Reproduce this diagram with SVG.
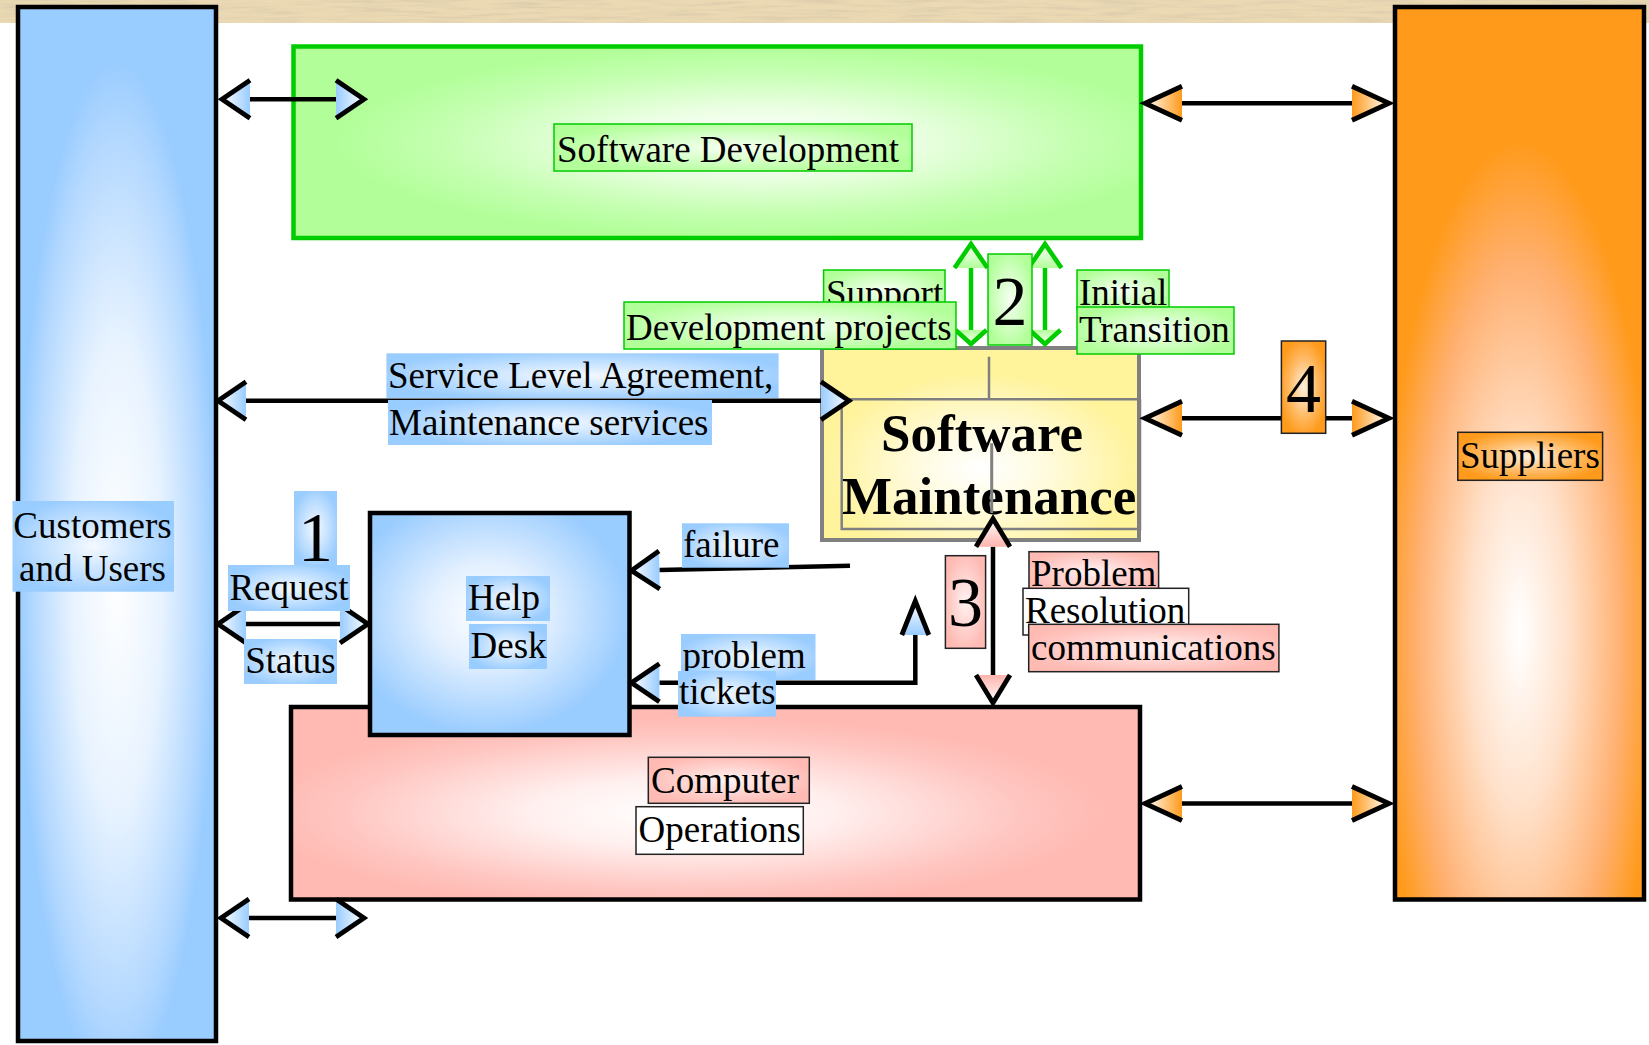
<svg xmlns="http://www.w3.org/2000/svg" width="1649" height="1045" viewBox="0 0 1649 1045">
<style>
.t{font-family:"Liberation Serif","Times New Roman",serif;font-size:37px;fill:#000}
.d{font-size:70px}
.b{font-weight:bold;font-size:53px}
.lb{fill:url(#gLB)}
.lg{fill:url(#gLG);stroke:#00cc00;stroke-width:1.5}
.lp{fill:url(#gLP);stroke:#222;stroke-width:1.5}
.lw{fill:#fff;stroke:#222;stroke-width:1.5}
.lo{fill:url(#gLO);stroke:#222;stroke-width:1.5}
.c{fill:none;stroke:#000;stroke-width:4.5}
.cg{fill:none;stroke:#00cc00;stroke-width:4.5}
.box{stroke:#000;stroke-width:4.5}
</style>
<defs>
<filter id="fPaper" x="0" y="0" width="1" height="1">
<feTurbulence type="fractalNoise" baseFrequency="0.02 0.3" numOctaves="4" seed="7" result="n"/>
<feColorMatrix in="n" type="matrix" values="0 0 0 0 0.74  0 0 0 0 0.62  0 0 0 0 0.42  3 0 0 0 -1.3" result="c"/>
<feComposite in="c" in2="SourceGraphic" operator="in" result="m"/>
<feMerge><feMergeNode in="SourceGraphic"/><feMergeNode in="m"/></feMerge>
</filter>
<radialGradient id="gBlueBox" cx="0.5" cy="0.55" r="0.5">
<stop offset="0" stop-color="#ffffff"/><stop offset="0.45" stop-color="#e8f3ff"/><stop offset="0.85" stop-color="#b3d8ff"/><stop offset="1" stop-color="#99ccff"/>
</radialGradient>
<radialGradient id="gHDBox" cx="0.45" cy="0.45" r="0.55">
<stop offset="0" stop-color="#ffffff"/><stop offset="0.4" stop-color="#e3f0ff"/><stop offset="1" stop-color="#99ccff"/>
</radialGradient>
<radialGradient id="gOrBox" cx="0.5" cy="0.7" r="0.55">
<stop offset="0" stop-color="#ffffff"/><stop offset="0.35" stop-color="#ffe2cc"/><stop offset="0.75" stop-color="#ffb070"/><stop offset="1" stop-color="#ff9a1a"/>
</radialGradient>
<radialGradient id="gGrBox" cx="0.55" cy="0.5" r="0.5">
<stop offset="0" stop-color="#ffffff"/><stop offset="0.35" stop-color="#ecffe4"/><stop offset="0.75" stop-color="#c4ffb0"/><stop offset="1" stop-color="#b2ff99"/>
</radialGradient>
<radialGradient id="gPkBox" cx="0.46" cy="0.55" r="0.5">
<stop offset="0" stop-color="#ffffff"/><stop offset="0.35" stop-color="#fff0ef"/><stop offset="0.8" stop-color="#ffc6c1"/><stop offset="1" stop-color="#ffbab3"/>
</radialGradient>
<radialGradient id="gYBox" cx="0.5" cy="0.63" r="0.5">
<stop offset="0" stop-color="#ffffff"/><stop offset="0.4" stop-color="#fffbe0"/><stop offset="1" stop-color="#fff39b"/>
</radialGradient>
<radialGradient id="gLB" cx="0.5" cy="0.5" r="0.55"><stop offset="0" stop-color="#f4f9ff"/><stop offset="0.6" stop-color="#bfdfff"/><stop offset="1" stop-color="#99ccff"/></radialGradient>
<radialGradient id="gLG" cx="0.5" cy="0.5" r="0.55"><stop offset="0" stop-color="#f6fff2"/><stop offset="0.6" stop-color="#cfffbf"/><stop offset="1" stop-color="#b2ff99"/></radialGradient>
<radialGradient id="gLP" cx="0.5" cy="0.5" r="0.55"><stop offset="0" stop-color="#fff4f3"/><stop offset="0.6" stop-color="#ffcfcb"/><stop offset="1" stop-color="#ffbab3"/></radialGradient>
<radialGradient id="gLO" cx="0.5" cy="0.5" r="0.55"><stop offset="0" stop-color="#fff0e0"/><stop offset="0.6" stop-color="#ffb860"/><stop offset="1" stop-color="#ff9a1a"/></radialGradient>
<linearGradient id="gHB" x1="0" y1="0" x2="1" y2="0"><stop offset="0" stop-color="#99ccff"/><stop offset="1" stop-color="#ffffff"/></linearGradient>
<linearGradient id="gHO" x1="0" y1="0" x2="1" y2="0"><stop offset="0" stop-color="#ff9a1a"/><stop offset="1" stop-color="#ffffff"/></linearGradient>
<linearGradient id="gHP" x1="0" y1="0" x2="1" y2="0"><stop offset="0" stop-color="#ffb3ad"/><stop offset="1" stop-color="#ffffff"/></linearGradient>
<linearGradient id="gHG" x1="0" y1="0" x2="1" y2="0"><stop offset="0" stop-color="#b2ff99"/><stop offset="1" stop-color="#ffffff"/></linearGradient>
<marker id="mB" markerUnits="userSpaceOnUse" viewBox="-6 -26 50 52" markerWidth="50" markerHeight="52" refX="0" refY="0" orient="auto-start-reverse" overflow="visible">
<path d="M0,-19 L28,0 L0,19 Z" fill="url(#gHB)"/><path d="M0,-19 L28,0 L0,19" fill="none" stroke="#000" stroke-width="4.8"/>
</marker>
<marker id="mB2" markerUnits="userSpaceOnUse" viewBox="-6 -26 50 52" markerWidth="50" markerHeight="52" refX="0" refY="0" orient="auto-start-reverse" overflow="visible">
<path d="M0,-13.5 L34,0 L0,13.5 Z" fill="url(#gHB)"/><path d="M0,-13.5 L34,0 L0,13.5" fill="none" stroke="#000" stroke-width="4.8"/>
</marker>
<marker id="mO" markerUnits="userSpaceOnUse" viewBox="-6 -26 56 52" markerWidth="56" markerHeight="52" refX="0" refY="0" orient="auto-start-reverse" overflow="visible">
<path d="M0,-17 L37,0 L0,17 Z" fill="url(#gHO)"/><path d="M0,-17 L37,0 L0,17" fill="none" stroke="#000" stroke-width="4.8"/>
</marker>
<marker id="mP" markerUnits="userSpaceOnUse" viewBox="-6 -26 50 52" markerWidth="50" markerHeight="52" refX="0" refY="0" orient="auto-start-reverse" overflow="visible">
<path d="M0,-17 L28,0 L0,17 Z" fill="url(#gHP)"/><path d="M0,-17 L28,0 L0,17" fill="none" stroke="#000" stroke-width="4.8"/>
</marker>
<marker id="mG" markerUnits="userSpaceOnUse" viewBox="-6 -26 50 52" markerWidth="50" markerHeight="52" refX="0" refY="0" orient="auto-start-reverse" overflow="visible">
<path d="M0,-16.5 L24,0 L0,16.5 Z" fill="url(#gHG)"/><path d="M0,-16.5 L24,0 L0,16.5" fill="none" stroke="#00cc00" stroke-width="4.5"/>
</marker>
<marker id="mG2" markerUnits="userSpaceOnUse" viewBox="-6 -26 50 52" markerWidth="50" markerHeight="52" refX="0" refY="0" orient="auto-start-reverse" overflow="visible">
<path d="M0,-15.5 L14,0 L0,15.5 Z" fill="url(#gHG)"/><path d="M0,-15.5 L14,0 L0,15.5" fill="none" stroke="#00cc00" stroke-width="4.5"/>
</marker>
</defs>

<rect x="0" y="0" width="1649" height="1045" fill="#ffffff"/>
<rect x="0" y="0" width="1649" height="23" fill="#ead9b3" filter="url(#fPaper)"/>

<g id="customers">
<rect class="box" x="18" y="7" width="198" height="1034" fill="url(#gBlueBox)"/>
<rect class="lb" x="12.5" y="501" width="161.5" height="90.7"/>
<text class="t" x="92.5" y="538" text-anchor="middle">Customers</text>
<text class="t" x="92.5" y="581" text-anchor="middle">and Users</text>
</g>

<g id="suppliers">
<rect class="box" x="1395" y="7" width="249" height="892.5" fill="url(#gOrBox)"/>
<rect class="lo" x="1457.8" y="432.3" width="144.8" height="48"/>
<text class="t" x="1460" y="468">Suppliers</text>
</g>

<g id="software-development">
<rect x="293.5" y="46.5" width="847.5" height="191.5" fill="url(#gGrBox)" stroke="#00cc00" stroke-width="4.5"/>
<rect class="lg" x="554" y="124" width="358" height="47"/>
<text class="t" x="557" y="161.5">Software Development</text>
</g>

<g id="computer-operations">
<rect class="box" x="291" y="707" width="849" height="192.5" fill="url(#gPkBox)"/>
<rect class="lp" x="648.3" y="757.3" width="161" height="46"/>
<text class="t" x="651" y="793">Computer</text>
<rect class="lw" x="636" y="806.7" width="167.3" height="47.6"/>
<text class="t" x="638.5" y="842">Operations</text>
</g>

<g id="help-desk">
<rect class="box" x="370" y="513" width="259.5" height="222" fill="url(#gHDBox)"/>
<rect class="lb" x="466" y="576" width="84" height="45"/>
<text class="t" x="468" y="610">Help</text>
<rect class="lb" x="469" y="624" width="78" height="45"/>
<text class="t" x="470.5" y="658">Desk</text>
</g>

<g id="software-maintenance">
<rect x="822" y="348" width="317" height="192" fill="url(#gYBox)" stroke="#808080" stroke-width="4"/>
<path d="M824,399.3 H1140 M989,356.7 V399.3 M841.7,399.3 V529 H1140 V399.3" fill="none" stroke="#808080" stroke-width="2.5"/>
<text class="t b" x="881" y="450.7">Software</text>
<text class="t b" x="842" y="514">Maintenance</text>
<path d="M991.7,443.3 V513" fill="none" stroke="#808080" stroke-width="3"/>
</g>

<g id="connectors">
<path class="c" d="M250,99.3 H336" marker-start="url(#mB)" marker-end="url(#mB)"/>
<path class="c" d="M1182,103.3 H1352" marker-start="url(#mO)" marker-end="url(#mO)"/>
<path class="c" d="M246,400.7 H821" marker-start="url(#mB)" marker-end="url(#mB)"/>
<path class="c" d="M1182,418.3 H1352" marker-start="url(#mO)" marker-end="url(#mO)"/>
<path class="c" d="M246,624 H340" marker-start="url(#mB)" marker-end="url(#mB)"/>
<path class="c" d="M850,565.7 L659.4,570" marker-end="url(#mB)"/>
<path class="c" d="M915.3,635 V682.7 H659.4" marker-start="url(#mB2)" marker-end="url(#mB)"/>
<path class="c" d="M993,546.7 V675" marker-start="url(#mP)" marker-end="url(#mP)"/>
<path class="c" d="M1182,803.5 H1352" marker-start="url(#mO)" marker-end="url(#mO)"/>
<path class="c" d="M249,918 H336" marker-start="url(#mB)" marker-end="url(#mB)"/>
<path class="cg" d="M971,268 V330" marker-start="url(#mG)" marker-end="url(#mG2)"/>
<path class="cg" d="M1045,268 V330" marker-start="url(#mG)" marker-end="url(#mG2)"/>
</g>

<g id="labels">
<rect class="lb" x="294" y="491" width="43" height="74"/>
<text class="t d" x="315.5" y="561" text-anchor="middle">1</text>
<rect class="lb" x="228" y="565" width="122" height="46"/>
<text class="t" x="289" y="600" text-anchor="middle">Request</text>
<rect class="lb" x="244" y="639" width="93" height="45"/>
<text class="t" x="290.5" y="673" text-anchor="middle">Status</text>
<rect class="lb" x="386.4" y="353.3" width="392.2" height="44.7"/>
<text class="t" x="388" y="388.3">Service Level Agreement,</text>
<rect class="lb" x="388" y="400" width="324" height="45"/>
<text class="t" x="389" y="435">Maintenance services</text>
<rect class="lb" x="682" y="523.3" width="107" height="44.4"/>
<text class="t" x="683" y="557">failure</text>
<rect class="lb" x="681" y="634" width="134.5" height="46"/>
<text class="t" x="682.5" y="667.7">problem</text>
<rect class="lb" x="678" y="671" width="98" height="45.7"/>
<text class="t" x="679" y="704">tickets</text>
<rect class="lg" x="823.6" y="270" width="121.4" height="40"/>
<text class="t" x="826" y="306">Support</text>
<rect class="lg" x="624" y="302" width="332" height="47"/>
<text class="t" x="626" y="339.5">Development projects</text>
<rect class="lg" x="988" y="254" width="44" height="91"/>
<text class="t d" x="1010" y="325" text-anchor="middle">2</text>
<rect class="lg" x="1077" y="270" width="92" height="40"/>
<text class="t" x="1079" y="304.5">Initial</text>
<rect class="lg" x="1077" y="307" width="157" height="47"/>
<text class="t" x="1079" y="342">Transition</text>
<rect class="lp" x="945.4" y="555.7" width="40.2" height="92.6"/>
<text class="t d" x="965.5" y="626" text-anchor="middle">3</text>
<rect class="lp" x="1029" y="551.7" width="129.6" height="40"/>
<text class="t" x="1031" y="586">Problem</text>
<rect class="lw" x="1023" y="588.3" width="165.7" height="46.7"/>
<text class="t" x="1025" y="623">Resolution</text>
<rect class="lp" x="1028.7" y="624.3" width="250.2" height="47.4"/>
<text class="t" x="1031" y="660">communications</text>
<rect class="lo" x="1281.4" y="341" width="44.3" height="92.3"/>
<text class="t d" x="1303.5" y="412" text-anchor="middle">4</text>
</g>
</svg>
